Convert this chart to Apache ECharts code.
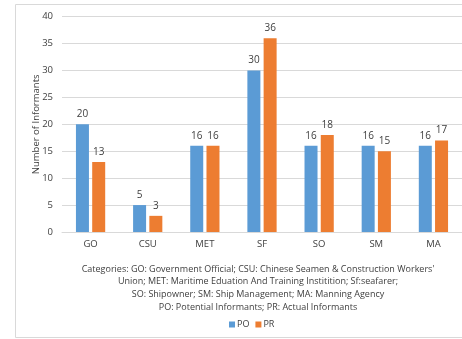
<!DOCTYPE html>
<html><head><meta charset="utf-8">
<script src="https://cdn.jsdelivr.net/npm/echarts@6/dist/echarts.min.js"></script>
<style>html,body{margin:0;padding:0;background:#fff}#c{width:462px;height:339px}</style>
</head><body><div id="c"></div>
<script>
const categories = ['GO','CSU','MET','SF','SO','SM','MA'];
const poValues = [20,5,16,30,16,16,16];
const prValues = [13,3,16,36,18,15,17];
const seriesNames = ['PO','PR'];
const yAxisTitle = 'Number of Informants';
const captionLines = [
  "Categories: GO: Government Official; CSU: Chinese Seamen & Construction Workers'",
  "Union; MET: Maritime Eduation And Training Institition; Sf:seafarer;",
  "SO: Shipowner; SM: Ship Management; MA: Manning Agency",
  "PO: Potential Informants; PR: Actual Informants"
];
const FONT = 'Open Sans';
const chart = echarts.init(document.getElementById('c'));
const labelStyle = {show:true, position:'top', distance:5, color:'#404040', fontSize:10, fontFamily:FONT};
chart.setOption({
  animation:false,
  textStyle:{fontFamily:FONT},
  graphic:[{type:'rect', shape:{x:15.5,y:4.5,width:460,height:333}, style:{fill:'none', stroke:'#d9d9d9', lineWidth:1}, z:-1}],
  title:{text:captionLines.join('\n'), left:258, textAlign:'center', top:263, padding:0,
    textStyle:{fontSize:9, fontWeight:'normal', color:'#404040', lineHeight:12.6, fontFamily:FONT}},
  legend:{data:seriesNames, left:229, top:320, padding:0, itemWidth:6, itemHeight:6, itemGap:6,
    icon:'rect', textStyle:{fontSize:9, color:'#404040', fontFamily:FONT, padding:[0,0,0,-3]}},
  grid:{left:62, right:-3, top:16.6, bottom:107, containLabel:false},
  xAxis:{type:'category', data:categories, axisTick:{show:false},
    axisLine:{lineStyle:{color:'#d9d9d9'}},
    axisLabel:{color:'#404040', fontSize:9.5, margin:7, fontFamily:FONT}},
  yAxis:{type:'value', min:0, max:40, interval:5,
    name:yAxisTitle, nameLocation:'middle', nameGap:21, nameRotate:90, nameMoveOverlap:false,
    nameTextStyle:{fontSize:9.5, color:'#404040', fontFamily:FONT},
    axisLine:{show:false}, axisTick:{show:false},
    axisLabel:{color:'#404040', fontSize:9.5, margin:9, fontFamily:FONT},
    splitLine:{lineStyle:{color:'#d9d9d9'}}},
  series:[
    {name:seriesNames[0], type:'bar', data:poValues, barWidth:13, barGap:'25%', itemStyle:{color:'#5b9bd5'}, label:labelStyle},
    {name:seriesNames[1], type:'bar', data:prValues, barWidth:13, barGap:'25%', itemStyle:{color:'#ed7d31'}, label:labelStyle}
  ]
});
</script></body></html>
